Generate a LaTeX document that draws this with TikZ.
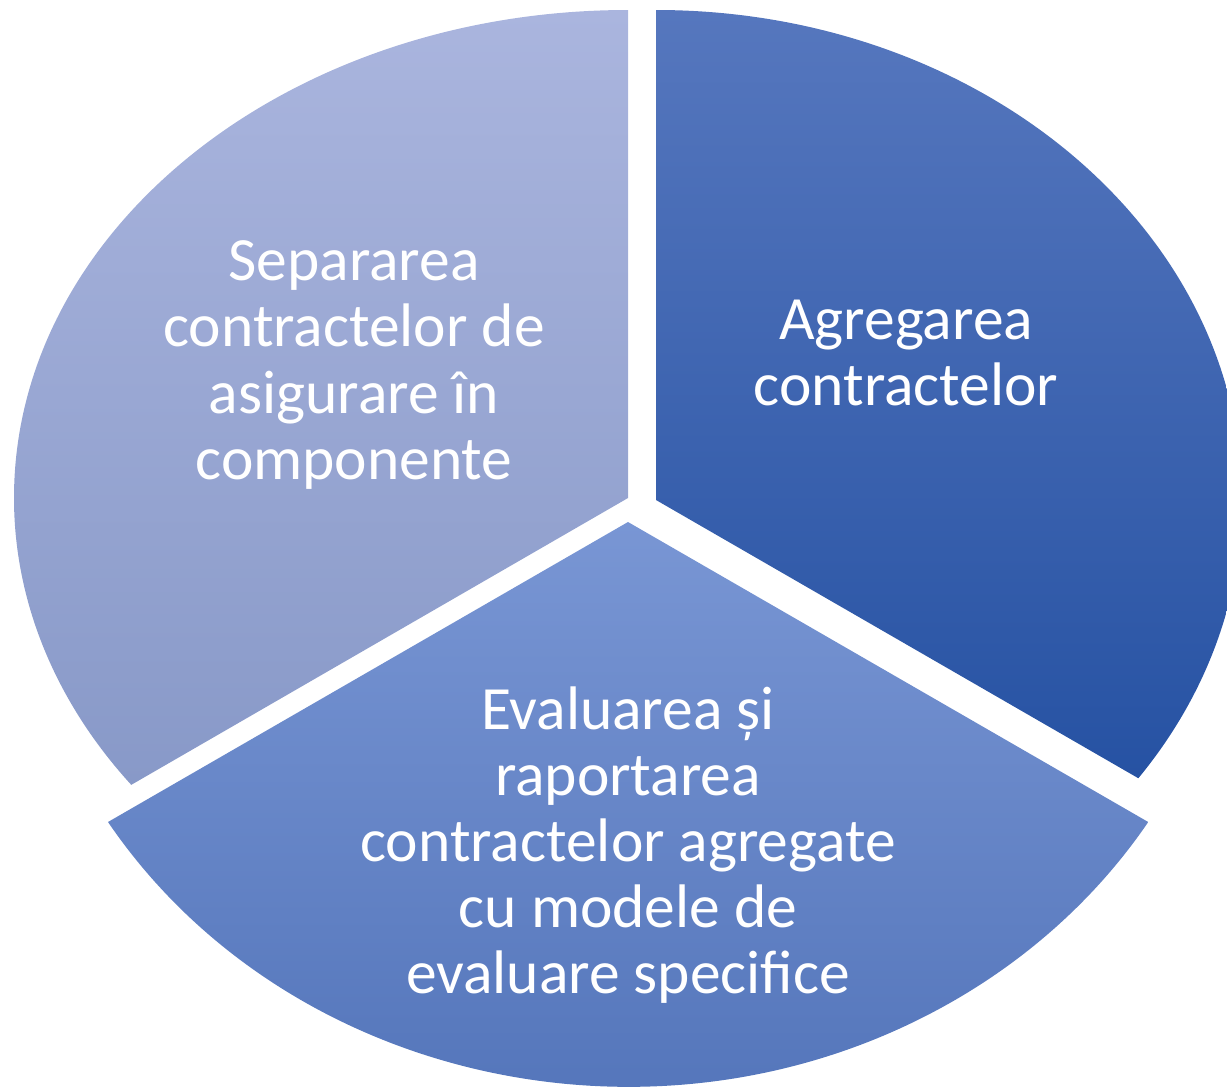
\documentclass[tikz,border=0pt]{standalone}
\usepackage{fontspec}
\setmainfont{Carlito}
\usetikzlibrary{shadings}

\definecolor{sepTop}{RGB}{170,181,222}
\definecolor{sepBot}{RGB}{136,153,200}
\definecolor{agrTop}{RGB}{86,119,190}
\definecolor{agrBot}{RGB}{38,82,163}
\definecolor{evalTop}{RGB}{121,150,212}
\definecolor{evalBot}{RGB}{80,114,184}

\begin{document}
\begin{tikzpicture}[label/.style={text=white,align=center,font=\fontsize{35}{37.6}\selectfont}]
                \useasboundingbox (0,0) rectangle (24.54,-21.76);
                \clip (0,0) rectangle (24.54,-21.76);
                % centres of the three slices
                \coordinate (V1) at (12.56,-9.96);
                \coordinate (V2) at (13.12,-10.00);
                \coordinate (V3) at (12.56,-10.44);
                % slices
                \shade[top color=sepTop,bottom color=sepBot]
                (V1) -- ++(0,9.76) arc[start angle=90,end angle=216,x radius=12.28,y radius=9.76] -- cycle;
                \shade[top color=agrTop,bottom color=agrBot]
                (V2) -- ++(0,9.80) arc[start angle=90,end angle=-34.6,x radius=11.72,y radius=9.80] -- cycle;
                \shade[top color=evalTop,bottom color=evalBot]
                (V3) -- ++(-10.40,-6.00) arc[start angle=212.1,end angle=327.9,x radius=12.28,y radius=11.30] -- cycle;
                % texts
                \node[label](sep)at(7.08, -7.30){Separarea\\contractelor de\\asigurare în\\componente};
                \node[label](agr)at(18.12, -7.06){Agregarea\\contractelor};
                \node[label](eval)at(12.56, -16.90){Evaluarea și\\raportarea\\contractelor agregate\\cu modele de\\evaluare specifice};
            \end{tikzpicture}
\end{document}
